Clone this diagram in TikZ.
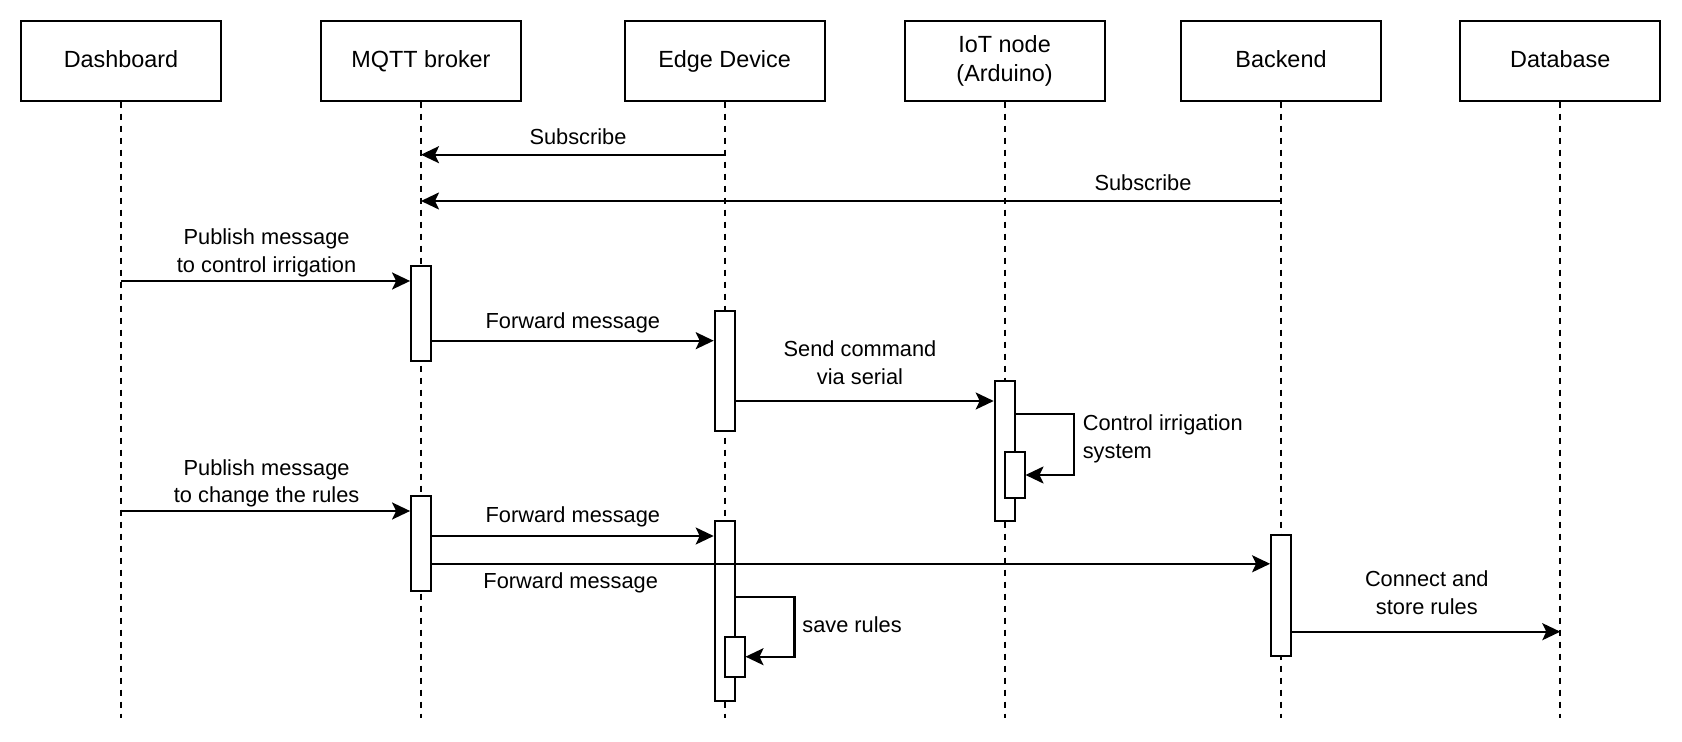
\documentclass[tikz,border=0pt]{standalone}
\usepackage{fontspec}
\setmainfont{Liberation Sans}
\usetikzlibrary{arrows.meta}

\begin{document}
\begin{tikzpicture}[x=0.5pt,y=-0.5pt,
    head/.style={draw,line width=1pt,minimum width=100pt,minimum height=40pt,align=center,inner sep=0pt,font=\fontsize{11.7}{14.6}\selectfont},
    oneline/.style={text height=0.72em,text depth=0pt},
    lifeline/.style={line width=0.9pt,dash pattern=on 3pt off 3pt},
    act/.style={draw,fill=white,line width=0.9pt,minimum width=10pt,inner sep=0pt},
    msg/.style={line width=1.1pt,-{Stealth[length=9pt,width=8.5pt,inset=2pt]}},
    lbl/.style={align=center,inner sep=0pt,font=\fontsize{10.9}{13.8}\selectfont}]
  \useasboundingbox (0,0) rectangle (1682,742);
  \node[head,oneline] (dash) at (121,60.7) {Dashboard};
  \node[head,oneline] (mqtt) at (421,60.7) {MQTT broker};
  \node[head,oneline] (edge) at (724.6,60.7) {Edge Device};
  \node[head] (iot) at (1004.6,60.7) {IoT node\\(Arduino)};
  \node[head,oneline] (back) at (1281,60.7) {Backend};
  \node[head,oneline] (db) at (1560.3,60.7) {Database};
  \coordinate (bottom) at (0,717.7);
  \foreach \n in {dash,mqtt,edge,iot,back,db}
    \draw[lifeline] (\n.south) -- (\n.south |- bottom);

  \node[act,minimum height=47.7pt] (mq1) at (421,313.4) {};
  \node[act,minimum height=60.2pt] (ed1) at (724.6,370.9) {};
  \node[act,minimum height=70pt] (io1) at (1004.6,451) {};
  \node[act,minimum height=23pt] (io2) at (1014.6,475) {};
  \node[act,minimum height=47.7pt] (mq2) at (421,543.4) {};
  \node[act,minimum height=90pt] (ed2) at (724.6,611) {};
  \node[act,minimum height=20pt] (ed3) at (734.6,656.7) {};
  \node[act,minimum height=60.5pt] (be1) at (1281,595.8) {};

  \coordinate (sub1) at (724.6,154.7);
  \draw[msg] (sub1) -- (sub1 -| mqtt.south);
  \node[lbl] (sub1l) at (578,136.7) {Subscribe};
  \coordinate (sub2) at (1281,201);
  \draw[msg] (sub2) -- (sub2 -| mqtt.south);
  \node[lbl] (sub2l) at (1143,182.7) {Subscribe};

  \coordinate (pub1) at (121,281);
  \draw[msg] (pub1) -- (pub1 -| mq1.west);
  \node[lbl] (pub1l) at (266.6,252.9) {Publish message\\to control irrigation};
  \coordinate (fwd1) at (421,340.7);
  \draw[msg] (fwd1 -| mq1.east) -- (fwd1 -| ed1.west);
  \node[lbl] (fwd1l) at (572.9,322.7) {Forward message};
  \coordinate (cmd) at (724.6,401);
  \draw[msg] (cmd -| ed1.east) -- (cmd -| io1.west);
  \node[lbl] (cmdl) at (860,362.6) {Send command\\via serial};
  \coordinate (ctl) at (1074.3,414.3);
  \draw[msg] (io1.east |- ctl) -- (ctl) |- (io2.east);
  \node[lbl,anchor=west,align=left] (ctll) at (1082.4,438.9) {Control irrigation\\system};

  \coordinate (pub2) at (121,511);
  \draw[msg] (pub2) -- (pub2 -| mq2.west);
  \node[lbl] (pub2l) at (266.6,483.2) {Publish message\\to change the rules};
  \coordinate (fwd2) at (421,536);
  \draw[msg] (fwd2 -| mq2.east) -- (fwd2 -| ed2.west);
  \node[lbl] (fwd2l) at (572.9,517) {Forward message};
  \coordinate (fwd3) at (421,563.8);
  \draw[msg] (fwd3 -| mq2.east) -- (fwd3 -| be1.west);
  \node[lbl] (fwd3l) at (570.7,582.7) {Forward message};
  \coordinate (save) at (794.4,596.7);
  \draw[msg] (ed2.east |- save) -- (save) |- (ed3.east);
  \node[lbl,anchor=west] (savel) at (802,624.3) {save rules};
  \coordinate (store) at (1281,631.7);
  \draw[msg] (store -| be1.east) -- (store -| db.south);
  \node[lbl] (storel) at (1426.8,592.7) {Connect and\\store rules};
\end{tikzpicture}
\end{document}
